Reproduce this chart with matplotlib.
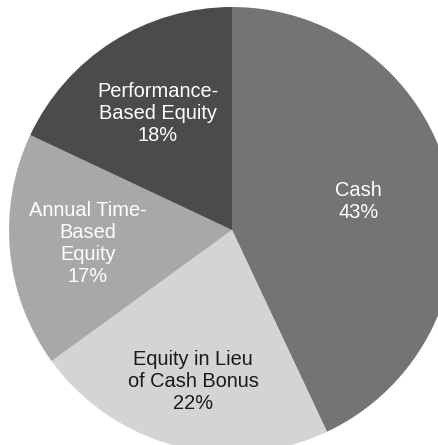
import numpy as np
import matplotlib
matplotlib.use("Agg")
import matplotlib.pyplot as plt

# data
labels = ["Cash", "Equity in Lieu\nof Cash Bonus", "Annual Time-\nBased\nEquity", "Performance-\nBased Equity"]
shares = [43, 22, 17, 18]

# styling
colors = ["#747474", "#d4d4d4", "#a8a8a8", "#4b4b4b"]
text_colors = ["white", "#1a1a1a", "white", "white"]
label_r = [0.58, 0.70, 0.65, 0.62]

W, H = 439, 445
CX, CY, R = 232, 230, 223   # pixel centre / radius of the (cropped) pie

fig = plt.figure(figsize=(W / 100, H / 100), dpi=100)
ax = fig.add_axes([0, 0, 1, 1])

wedges, _ = ax.pie(shares, colors=colors, startangle=90, counterclock=False,
                   wedgeprops=dict(linewidth=0))

for w, lab, val, tc, r in zip(wedges, labels, shares, text_colors, label_r):
    mid = np.deg2rad((w.theta1 + w.theta2) / 2)
    ax.text(r * np.cos(mid), r * np.sin(mid), f"{lab}\n{val}%",
            ha="center", va="center", color=tc, fontsize=14.4,
            family=["Liberation Sans", "DejaVu Sans"], linespacing=1.2)

ax.set_xlim(-CX / R, (W - CX) / R)
ax.set_ylim(-(H - CY) / R, CY / R)
ax.set_aspect("auto")
ax.axis("off")

fig.savefig("out.png", dpi=100)
